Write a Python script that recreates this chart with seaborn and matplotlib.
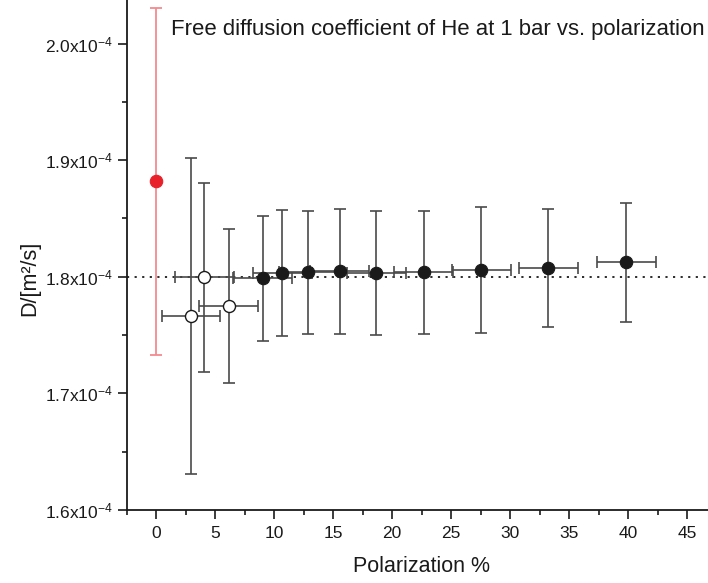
import numpy as np
import pandas as pd
import seaborn as sns
import matplotlib
matplotlib.use("Agg")
import matplotlib.pyplot as plt
from matplotlib.ticker import FuncFormatter, MultipleLocator

# ---- data (D in m^2/s) ----
ref_x = [0.0]
ref_y = [1.8818e-4]
ref_yerr = [0.149e-4]

open_x = [2.94, 4.09, 6.16]
open_y = [1.7667e-4, 1.7995e-4, 1.7747e-4]
open_xerr = [2.47, 2.50, 2.49]
open_yerr = [0.1355e-4, 0.081e-4, 0.066e-4]

filled_x = [9.04, 10.68, 12.88, 15.57, 18.66, 22.69, 27.54, 33.25, 39.86]
filled_y = [1.7986e-4, 1.8029e-4, 1.8038e-4, 1.8046e-4, 1.8032e-4,
            1.8038e-4, 1.8057e-4, 1.8074e-4, 1.8126e-4]
filled_xerr = [2.5, 2.5, 2.5, 2.5, 2.5, 2.5, 2.5, 2.5, 2.5]
filled_yerr = [0.0535e-4, 0.054e-4, 0.053e-4, 0.0538e-4, 0.053e-4,
               0.053e-4, 0.054e-4, 0.0505e-4, 0.051e-4]

free_D = 1.8e-4
x_ticks = [0, 5, 10, 15, 20, 25, 30, 35, 40, 45]
y_ticks = [1.6e-4, 1.7e-4, 1.8e-4, 1.9e-4, 2.0e-4]

sns.set_style("ticks")
plt.rcParams['font.family'] = ['Liberation Sans', 'DejaVu Sans']
plt.rcParams['mathtext.default'] = 'regular'

fig = plt.figure(figsize=(7.08, 5.83), dpi=100)
ax = fig.add_axes([126.7 / 708, 1 - 510 / 583, 1 - 126.7 / 708, 510 / 583])

ebc = '#4a4a4a'
# error bars
ax.errorbar(ref_x, ref_y, yerr=ref_yerr, fmt='none', ecolor='#f48a90',
            elinewidth=1.3, capsize=4.5, capthick=1.3, zorder=2)
ax.errorbar(open_x, open_y, xerr=open_xerr, yerr=open_yerr, fmt='none',
            ecolor=ebc, elinewidth=1.2, capsize=4.5, capthick=1.2, zorder=2)
ax.errorbar(filled_x, filled_y, xerr=filled_xerr, yerr=filled_yerr, fmt='none',
            ecolor=ebc, elinewidth=1.2, capsize=4.5, capthick=1.2, zorder=2)

# markers
df_ref = pd.DataFrame({'x': ref_x, 'y': ref_y})
df_open = pd.DataFrame({'x': open_x, 'y': open_y})
df_fill = pd.DataFrame({'x': filled_x, 'y': filled_y})
sns.scatterplot(data=df_ref, x='x', y='y', ax=ax, color='#e8202a', s=80,
                edgecolor='#e8202a', linewidth=0.8, zorder=4)
sns.scatterplot(data=df_open, x='x', y='y', ax=ax, color='white', s=75,
                edgecolor='#1a1a1a', linewidth=1.0, zorder=4)
sns.scatterplot(data=df_fill, x='x', y='y', ax=ax, color='#1a1a1a', s=80,
                edgecolor='#1a1a1a', linewidth=0.8, zorder=4)

ax.axhline(free_D, color='#1a1a1a', linestyle=(0, (1.2, 3.0)), linewidth=1.3, zorder=1)

ax.set_xlim(-2.5, 46.78)
ax.set_ylim(1.6e-4, 2.0e-4 + 43.7 / 1170 * 1e-4)
ax.set_xticks(x_ticks)
ax.set_yticks(y_ticks)
ax.xaxis.set_minor_locator(MultipleLocator(2.5))
ax.yaxis.set_minor_locator(MultipleLocator(0.05e-4))
ax.yaxis.set_major_formatter(FuncFormatter(lambda v, p: f"{v / 1e-4:.1f}x10$^{{-4}}$"))

for s in ['top', 'right']:
    ax.spines[s].set_visible(False)
for s in ['left', 'bottom']:
    ax.spines[s].set_color('#1a1a1a')
    ax.spines[s].set_linewidth(1.3)
ax.tick_params(axis='both', which='major', length=6.5, width=1.2, color='#1a1a1a',
               labelsize=12.5, labelcolor='#1a1a1a', direction='out')
ax.tick_params(axis='both', which='minor', length=3.5, width=1.2, color='#1a1a1a',
               direction='out')
ax.tick_params(axis='x', which='major', pad=5)
ax.set_xlabel('')
ax.set_ylabel('')

fig.text(30 / 708, 1 - 278 / 583, 'D/[m²/s]', rotation=90, ha='center', va='center',
         fontsize=15.5, color='#1a1a1a')
fig.text(421 / 708, 1 - 566 / 583, 'Polarization %', ha='center', va='center',
         fontsize=15.5, color='#1a1a1a')
fig.text(705 / 708, 1 - 29 / 583, 'Free diffusion coefficient of He at 1 bar vs. polarization',
         ha='right', va='center', fontsize=15.9, color='#1a1a1a')

fig.savefig('out.png', dpi=100)
